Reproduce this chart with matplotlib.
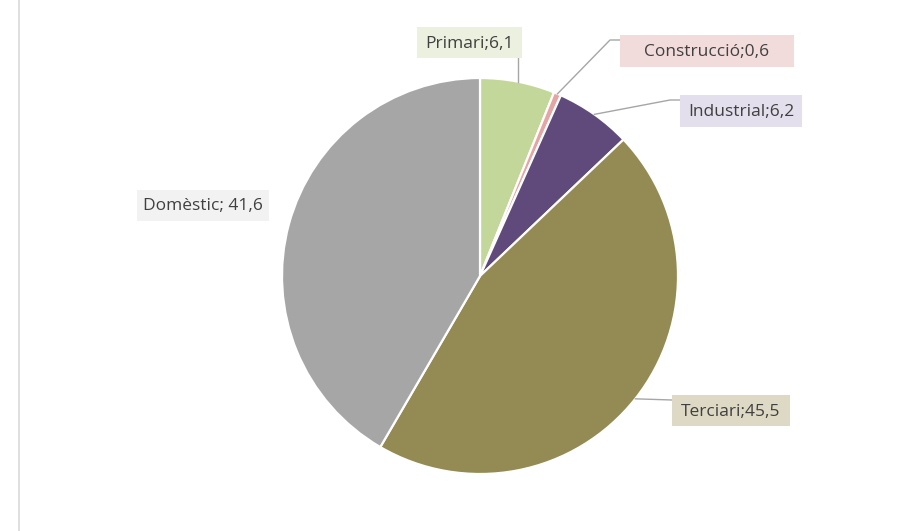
import numpy as np
import matplotlib.pyplot as plt
from matplotlib.lines import Line2D
from matplotlib.patches import Rectangle

# ============================================================
# Data
# ============================================================
sectors = ["Primari", "Construcció", "Industrial", "Terciari", "Domèstic"]
values = [6.1, 0.6, 6.2, 45.5, 41.6]
separators = [";", ";", ";", ";", "; "]

slice_colors = ["#C4D79B", "#E6A5A5", "#604A7B", "#948A54", "#A6A6A6"]
box_colors = ["#EBF1DE", "#F2DCDB", "#E4DFEC", "#DDD9C4", "#F2F2F2"]

# label boxes in pixels (left, top, right, bottom), y from top
boxes = [
    (417, 27, 522, 58),
    (620, 35, 794, 67),
    (680, 95, 802, 127),
    (672, 395, 790, 426),
    (137, 190, 269, 221),
]
show_leader = [True, True, True, True, False]

W, H = 916, 531
cx, cy, R = 480, H - 276, 198

# ============================================================
# Figure
# ============================================================
fig = plt.figure(figsize=(W / 100, H / 100), dpi=100)
ax = fig.add_axes([0, 0, 1, 1])

wedges, _ = ax.pie(
    values,
    colors=slice_colors,
    startangle=90,
    counterclock=False,
    center=(cx, cy),
    radius=R,
    wedgeprops=dict(edgecolor="white", linewidth=1.6),
    frame=True,
)
ax.set_xlim(0, W)
ax.set_ylim(0, H)
ax.set_aspect("equal")
ax.axis("off")

# labels + leader lines
for i, w in enumerate(wedges):
    txt = f"{sectors[i]}{separators[i]}{values[i]:.1f}".replace(".", ",")
    x0, y0, x1, y1 = boxes[i]
    ax.add_patch(Rectangle((x0, H - y1), x1 - x0, y1 - y0,
                           fc=box_colors[i], ec="none", zorder=5))
    ax.text(
        (x0 + x1) / 2, H - (y0 + y1) / 2 - 1, txt,
        ha="center", va="center",
        fontsize=12.5, color="#404040", family="Open Sans",
        zorder=6,
    )
    if not show_leader[i]:
        continue
    ang = np.deg2rad((w.theta1 + w.theta2) / 2)
    px, py = cx + R * np.cos(ang), cy + R * np.sin(ang)
    if i == 0:
        xs, ys = [px, px], [py, H - y1]
    elif i == 3:
        xs, ys = [px, x0], [py, H - 400]
    else:
        ey = 40 if i == 1 else 100
        xs, ys = [px, x0 - 10, x0], [py, H - ey, H - ey]
    ax.plot(xs, ys, color="#A6A6A6", linewidth=1.0, zorder=4)

# thin border on the left
fig.add_artist(Line2D([19 / W, 19 / W], [0, 1], transform=fig.transFigure,
                      color="#D9D9D9", linewidth=1.2))

fig.savefig("out.png", dpi=100, facecolor="white")
